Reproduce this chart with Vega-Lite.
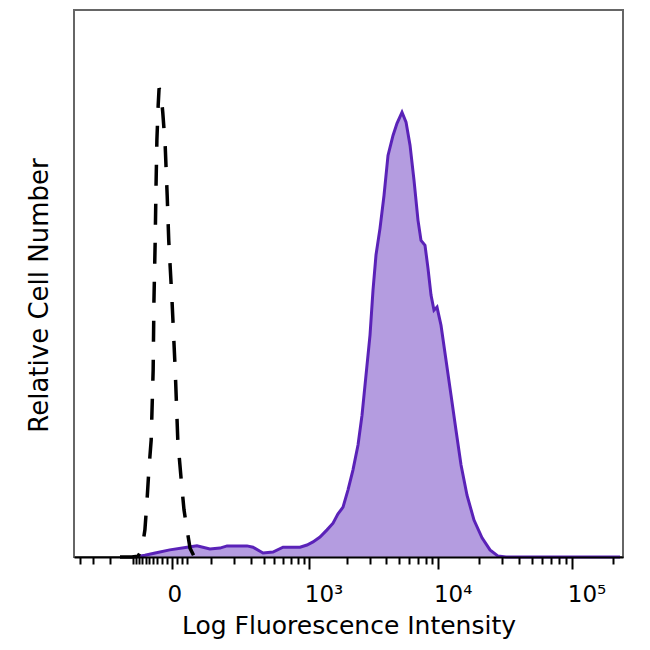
{
  "$schema": "https://vega.github.io/schema/vega-lite/v6.json",
  "width": 549,
  "height": 547,
  "autosize": {"type": "none"},
  "padding": {"left": 74, "top": 10, "right": 27, "bottom": 93},
  "background": "white",
  "datasets": {
    "sample": [
      {"intensity": -93, "count": 0},
      {"intensity": -62, "count": 0.4},
      {"intensity": -35, "count": 0.9},
      {"intensity": -4, "count": 1.6},
      {"intensity": 31, "count": 2.2},
      {"intensity": 56, "count": 2.5},
      {"intensity": 96, "count": 1.8},
      {"intensity": 134, "count": 2.0},
      {"intensity": 165, "count": 2.5},
      {"intensity": 275, "count": 2.5},
      {"intensity": 316, "count": 2.2},
      {"intensity": 395, "count": 0.9},
      {"intensity": 488, "count": 1.1},
      {"intensity": 599, "count": 2.2},
      {"intensity": 837, "count": 2.2},
      {"intensity": 957, "count": 2.7},
      {"intensity": 1072, "count": 3.4},
      {"intensity": 1222, "count": 4.5},
      {"intensity": 1391, "count": 6.1},
      {"intensity": 1554, "count": 7.6},
      {"intensity": 1702, "count": 9.7},
      {"intensity": 1864, "count": 11.2},
      {"intensity": 2040, "count": 15.1},
      {"intensity": 2231, "count": 19.6},
      {"intensity": 2441, "count": 25.2},
      {"intensity": 2622, "count": 31.9},
      {"intensity": 2815, "count": 40.9},
      {"intensity": 3022, "count": 49.9},
      {"intensity": 3187, "count": 60.0},
      {"intensity": 3360, "count": 67.9},
      {"intensity": 3606, "count": 73.9},
      {"intensity": 3870, "count": 81.3},
      {"intensity": 4152, "count": 90.3},
      {"intensity": 4534, "count": 94.8},
      {"intensity": 4862, "count": 97.5},
      {"intensity": 5307, "count": 100},
      {"intensity": 5692, "count": 97.8},
      {"intensity": 6103, "count": 92.6},
      {"intensity": 6543, "count": 84.7},
      {"intensity": 7014, "count": 75.7},
      {"intensity": 7389, "count": 71.2},
      {"intensity": 7920, "count": 70.1},
      {"intensity": 8343, "count": 64.9},
      {"intensity": 8791, "count": 58.9},
      {"intensity": 9259, "count": 55.5},
      {"intensity": 9753, "count": 56.2},
      {"intensity": 10453, "count": 52.1},
      {"intensity": 11393, "count": 44.3},
      {"intensity": 12431, "count": 36.4},
      {"intensity": 13545, "count": 28.5},
      {"intensity": 14777, "count": 20.7},
      {"intensity": 16380, "count": 13.9},
      {"intensity": 18480, "count": 8.3},
      {"intensity": 21220, "count": 4.3},
      {"intensity": 24350, "count": 1.6},
      {"intensity": 27950, "count": 0.2},
      {"intensity": 32070, "count": 0},
      {"intensity": 227000, "count": 0}
    ],
    "control": [
      {"intensity": -151, "count": 0},
      {"intensity": -104, "count": 0},
      {"intensity": -83, "count": 0.2},
      {"intensity": -71, "count": 1.6},
      {"intensity": -62, "count": 6.1},
      {"intensity": -56, "count": 12.8},
      {"intensity": -51, "count": 19.6},
      {"intensity": -45, "count": 26.3},
      {"intensity": -40, "count": 42.0},
      {"intensity": -38, "count": 57.8},
      {"intensity": -35, "count": 71.2},
      {"intensity": -33, "count": 83.6},
      {"intensity": -31, "count": 93.7},
      {"intensity": -28, "count": 101.6},
      {"intensity": -26, "count": 105.4},
      {"intensity": -22, "count": 104.5},
      {"intensity": -18, "count": 100},
      {"intensity": -13, "count": 92.6},
      {"intensity": -9, "count": 81.3},
      {"intensity": -6, "count": 71.2},
      {"intensity": 0, "count": 57.8},
      {"intensity": 6, "count": 42.0},
      {"intensity": 11, "count": 26.3},
      {"intensity": 18, "count": 17.3},
      {"intensity": 24, "count": 10.6},
      {"intensity": 31, "count": 6.1},
      {"intensity": 38, "count": 2.0},
      {"intensity": 48, "count": 0.2},
      {"intensity": 65, "count": 0}
    ]
  },
  "encoding": {
    "x": {
      "field": "intensity",
      "type": "quantitative",
      "scale": {"type": "symlog", "constant": 105, "domain": [-458, 238770], "nice": false},
      "axis": {
        "title": "Log Fluorescence Intensity",
        "titleFont": "DejaVu Sans",
        "titleFontSize": 25,
        "titleFontWeight": "normal",
        "titleColor": "black",
        "titleBaseline": "alphabetic",
        "titleY": 76,
        "values": [-400, -300, -200, -100, -90, -80, -70, -60, -50, -40, -30, -20, -10, 0, 10, 20, 30,
          100, 200, 300, 400, 500, 600, 700, 800, 900, 1000,
          2000, 3000, 4000, 5000, 6000, 7000, 8000, 9000, 10000,
          20000, 30000, 40000, 50000, 60000, 70000, 80000, 90000, 100000, 200000],
        "labelExpr": "datum.value == 0 ? '0' : datum.value == 1000 ? '10³' : datum.value == 10000 ? '10⁴' : datum.value == 100000 ? '10⁵' : ''",
        "labelFont": "DejaVu Sans",
        "labelFontSize": 23,
        "labelColor": "black",
        "labelAlign": "left",
        "labelOffset": -5,
        "labelBaseline": "alphabetic",
        "labelPadding": 32,
        "labelOverlap": false,
        "labelFlush": false,
        "labelBound": false,
        "tickColor": "black",
        "tickWidth": 2,
        "tickSize": {"condition": {"test": "datum.value == 0 || datum.value == 1000 || datum.value == 10000 || datum.value == 100000", "value": 12}, "value": 7},
        "domainColor": "black",
        "domainWidth": 2,
        "grid": false,
        "zindex": 1
      }
    },
    "y": {
      "field": "count",
      "type": "quantitative",
      "scale": {"domain": [0, 123], "nice": false},
      "axis": {
        "title": "Relative Cell Number",
        "titleFont": "DejaVu Sans",
        "titleFontSize": 26,
        "titleFontWeight": "normal",
        "titleColor": "black",
        "titlePadding": 22,
        "titleY": 285,
        "ticks": false,
        "labels": false,
        "domain": false,
        "grid": false
      }
    }
  },
  "layer": [
    {
      "data": {"name": "sample"},
      "mark": {"type": "area", "color": "#b49ce0", "opacity": 1}
    },
    {
      "data": {"name": "sample"},
      "mark": {"type": "line", "color": "#5a22b8", "strokeWidth": 3}
    },
    {
      "data": {"name": "control"},
      "mark": {"type": "line", "color": "black", "strokeWidth": 3.5, "strokeDash": [21, 18]}
    }
  ],
  "config": {
    "view": {"stroke": "#666666", "strokeWidth": 2}
  }
}
